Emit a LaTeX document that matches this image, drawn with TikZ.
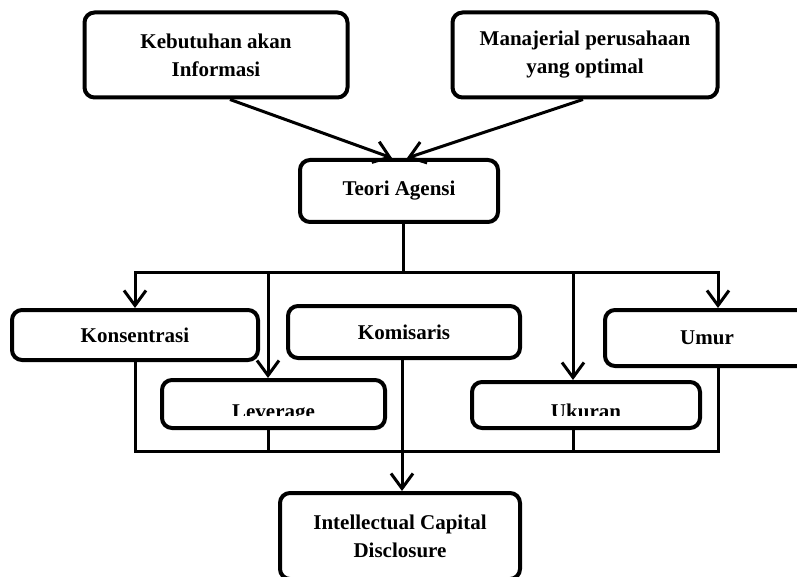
\documentclass[tikz,border=0pt]{standalone}
\usepackage{fontspec}
\setmainfont{Liberation Serif}
\usepackage{tikz}
\usetikzlibrary{arrows.meta}
\tikzset{
  blok/.style={draw, line width=4pt, rounded corners=10pt, align=center, inner sep=0pt, font=\fontsize{21}{28}\selectfont\bfseries},
  teks/.style={inner sep=0pt, font=\fontsize{21}{28}\selectfont\bfseries},
  garis/.style={line width=3pt},
  panah/.style={line width=3pt, -{Straight Barb[length=15pt,width=22pt]}}
}
\begin{document}
\begin{tikzpicture}[x=1pt,y=-1pt]
\useasboundingbox (0,0) rectangle (797,577);
\clip (0,0) rectangle (797,577);
\node[blok, minimum width=263pt, minimum height=85pt] (kebutuhan) at (216,55) {Kebutuhan akan\\Informasi};
\node[blok, minimum width=265pt, minimum height=85pt] (manajerial) at (585,55) {Manajerial perusahaan\\yang optimal};
\node[blok, minimum width=198pt, minimum height=62pt] (teori) at (399,191) {Teori Agensi};
\node[blok, minimum width=246pt, minimum height=50pt] (konsentrasi) at (135,335) {Konsentrasi};
\node[blok, minimum width=232pt, minimum height=52pt] (komisaris) at (404,332) {Komisaris};
\node[blok, minimum width=204pt, minimum height=56pt] (umur) at (707,338) {Umur};
\node[blok, minimum width=223pt, minimum height=48pt] (leverage) at (273.5,404) {};
\node[blok, minimum width=228pt, minimum height=46pt] (ukuran) at (586,405) {};
\node[blok, minimum width=240pt, minimum height=86pt] (icd) at (400,536) {Intellectual Capital\\Disclosure};
\begin{scope}
\clip (160,380) rectangle (700,415);
\node[teks, anchor=base] (leveragelabel) at (273.5,418) {Leverage};
\node[teks, anchor=base] (ukuranlabel) at (586,418) {Ukuran};
\end{scope}
\coordinate (t1) at (135,272);
\coordinate (t2) at (268,272);
\coordinate (t3) at (573,272);
\coordinate (t4) at (718,272);
\coordinate (b1) at (135,451);
\coordinate (b2) at (268,451);
\coordinate (b3) at (573,451);
\coordinate (b4) at (718,451);
\draw[panah] ([xshift=14pt]kebutuhan.south) -- ([xshift=-7pt]teori.north);
\draw[panah] ([xshift=-2pt]manajerial.south) -- ([xshift=8pt]teori.north);
\draw[garis] ([xshift=4pt]teori.south) -- ([xshift=4pt]teori.south |- t1);
\draw[garis, line cap=rect] (t1) -- (t4);
\draw[panah] (t1) -- (t1 |- konsentrasi.north);
\draw[panah] (t2) -- (t2 |- leverage.north);
\draw[panah] (t3) -- (t3 |- ukuran.north);
\draw[panah] (t4) -- (t4 |- umur.north);
\draw[garis] (b1 |- konsentrasi.south) -- (b1);
\draw[garis] (b2 |- leverage.south) -- (b2);
\draw[garis] (b3 |- ukuran.south) -- (b3);
\draw[garis] (b4 |- umur.south) -- (b4);
\draw[garis, line cap=rect] (b1) -- (b4);
\draw[panah] ([xshift=-2pt]komisaris.south) -- ([xshift=-2pt]komisaris.south |- icd.north);
\end{tikzpicture}
\end{document}
